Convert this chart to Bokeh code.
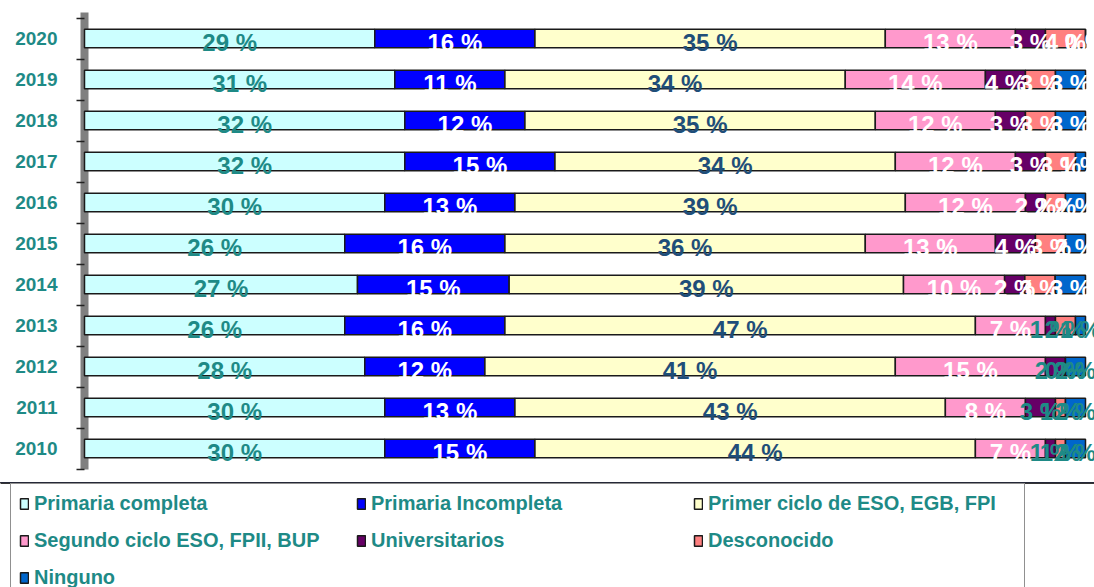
from bokeh.plotting import figure
from bokeh.models import Range1d, FixedTicker, ColumnDataSource, Legend, LegendItem
from bokeh.core.properties import value
from bokeh.embed import file_html
from bokeh.resources import INLINE

# ---------------- data ----------------
years = [2010, 2011, 2012, 2013, 2014, 2015, 2016, 2017, 2018, 2019, 2020]
primaria_completa = [30, 30, 28, 26, 27, 26, 30, 32, 32, 31, 29]
primaria_incompleta = [15, 13, 12, 16, 15, 16, 13, 15, 12, 11, 16]
primer_ciclo = [44, 43, 41, 47, 39, 36, 39, 34, 35, 34, 35]
segundo_ciclo = [7, 8, 15, 7, 10, 13, 12, 12, 12, 14, 13]
universitarios = [1, 3, 2, 1, 2, 4, 2, 3, 3, 4, 3]
desconocido = [1, 1, 0, 2, 3, 3, 2, 3, 3, 3, 4]
ninguno = [2, 2, 2, 1, 3, 2, 2, 1, 3, 3, 0]

labels = ["Primaria completa", "Primaria Incompleta", "Primer ciclo de ESO, EGB, FPI",
          "Segundo ciclo ESO, FPII, BUP", "Universitarios", "Desconocido", "Ninguno"]
series = [primaria_completa, primaria_incompleta, primer_ciclo, segundo_ciclo,
          universitarios, desconocido, ninguno]
colors = ["#CCFFFF", "#0000FF", "#FFFFCC", "#FF99CC", "#660066", "#FF8080", "#0066CC"]

TEAL = "#1E8A86"
DARKBLUE = "#1F4E79"
label_colors = [TEAL, "white", DARKBLUE, "white", "white", "white", "white"]

# ---------------- layout ----------------
W = 1094
H_CHART = 482
H_LEG = 105
FRAME_LEFT = 84
BAR_END = 1085
PX_PER_UNIT = (BAR_END - FRAME_LEFT) / 100.0
ROW_PX = 41.0
TOP_PX = 38.0

y_end = max(years) + TOP_PX / ROW_PX
y_start = y_end - H_CHART / ROW_PX

p = figure(width=W, height=H_CHART, output_backend="svg", toolbar_location=None,
           x_axis_location=None, y_axis_location="left",
           min_border_left=FRAME_LEFT, min_border_right=0, min_border_top=0, min_border_bottom=0,
           x_range=Range1d(0, (W - FRAME_LEFT) / PX_PER_UNIT),
           y_range=Range1d(y_start, y_end))
p.outline_line_color = None
p.xgrid.visible = False
p.ygrid.visible = False
p.background_fill_color = "white"
p.border_fill_color = "white"

keys = [f"s{i}" for i in range(len(series))]
data = {"year": years}
totals = [sum(s[i] for s in series) for i in range(len(years))]
for k, s in zip(keys, series):
    data[k] = [v / t * 100 for v, t in zip(s, totals)]
src = ColumnDataSource(data)

rends = p.hbar_stack(keys, y="year", height=0.45, color=colors, line_color="#1a1a1a",
                     line_width=1.5, source=src, level="overlay")

# segment labels
lx, ly, lt, lc = [], [], [], []
for i, yr in enumerate(years):
    left = 0.0
    for k, key in enumerate(keys):
        w = data[key][i]
        lx.append(left + w / 2)
        ly.append(yr)
        lt.append(f"{series[k][i]} %")
        c = label_colors[k]
        if k >= 4 and yr <= 2013:
            c = TEAL
        lc.append(c)
        left += w
p.text(x=lx, y=ly, text=lt, text_color=lc, text_font=value("Liberation Sans"),
       text_font_style="bold", text_font_size="24px", text_align="center",
       text_baseline="middle", y_offset=4, level="overlay")

# y axis (3D wall imitation)
ax = p.yaxis[0]
ax.ticker = FixedTicker(ticks=years, minor_ticks=[y - 0.5 for y in years] + [years[-1] + 0.5])
ax.major_tick_line_color = None
ax.major_tick_out = 0
ax.minor_tick_in = 0
ax.minor_tick_out = 8
ax.minor_tick_line_color = "#222222"
ax.minor_tick_line_width = 1.5
ax.axis_line_color = "#808080"
ax.axis_line_width = 8
ax.bounds = (years[0] - 0.51, years[-1] + 0.63)
ax.major_label_standoff = 19
ax.major_label_text_font = "Liberation Sans"
ax.major_label_text_font_style = "bold"
ax.major_label_text_font_size = "19px"
ax.major_label_text_color = TEAL

# legend in its own strip
pl = figure(width=W, height=H_LEG, output_backend="svg", toolbar_location=None,
            x_axis_location=None, y_axis_location=None,
            min_border_left=0, min_border_right=0, min_border_top=0, min_border_bottom=0,
            x_range=Range1d(0, 1), y_range=Range1d(0, 1))
pl.outline_line_color = None
pl.xgrid.visible = False
pl.ygrid.visible = False
proxies = [pl.hbar(y=[10], right=[1], height=1, color=c, line_color="#1a1a1a", line_width=1.5)
           for c in colors]
items = [LegendItem(label=l, renderers=[r]) for l, r in zip(labels, proxies)]
legend = Legend(items=items, location=(10, -11), orientation="horizontal", ncols=3,
                glyph_width=10, glyph_height=13, label_standoff=5, label_width=308,
                label_height=16, spacing=14, padding=8, margin=0,
                label_text_font="Liberation Sans", label_text_font_style="bold",
                label_text_font_size="20px", label_text_color=TEAL,
                border_line_color="#222222", border_line_width=1.5,
                background_fill_color="white", background_fill_alpha=1)
pl.add_layout(legend, "center")

open("out.html", "w").write(file_html([p, pl], INLINE))
